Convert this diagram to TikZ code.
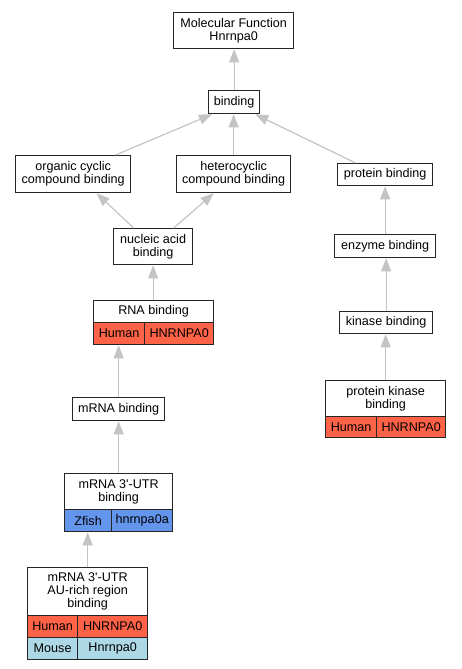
\documentclass[tikz,border=0pt]{standalone}
\usepackage{fontspec}
\newfontfamily\lsans{Liberation Sans}
\usetikzlibrary{arrows.meta}
\definecolor{human}{HTML}{FF6347}
\definecolor{zfish}{HTML}{6495ED}
\definecolor{mouse}{HTML}{ADD8E6}
\definecolor{edgegray}{HTML}{C4C4C4}
\tikzset{
  box/.style={draw=black!85, line width=1.3pt, fill=white, inner sep=0pt, align=center,
    anchor=north west, font=\lsans\fontsize{12.6}{13}\selectfont},
  hcell/.style={box, fill=human},
  zcell/.style={box, fill=zfish},
  mcell/.style={box, fill=mouse},
  isa/.style={draw=edgegray, line width=1.2pt, -{Triangle[length=13pt,width=10pt]}},
}
\begin{document}
\begin{tikzpicture}[x=1pt,y=-1pt]
\useasboundingbox (0,0) rectangle (461,669);
% nodes
\node[box, minimum width=120, minimum height=36] (mf) at (173,12) {Molecular Function\\Hnrnpa0};
\node[box, minimum width=51, minimum height=23] (bind) at (208,90) {binding};
\node[box, minimum width=115, minimum height=37] (org) at (15,155) {organic cyclic\\compound binding};
\node[box, minimum width=114, minimum height=37] (het) at (176,155) {heterocyclic\\compound binding};
\node[box, minimum width=95, minimum height=22] (prot) at (337,163) {protein binding};
\node[box, minimum width=79, minimum height=36] (nuc) at (113,228) {nucleic acid\\binding};
\node[box, minimum width=101, minimum height=23] (enz) at (334,234) {enzyme binding};
\node[box, minimum width=120, minimum height=22] (rna) at (93,300) {RNA binding};
\node[hcell, minimum width=51, minimum height=22] (rnah) at (93,322) {Human};
\node[hcell, minimum width=69, minimum height=22] (rnag) at (144,322) {HNRNPA0};
\node[box, minimum width=93, minimum height=22] (kin) at (339,311) {kinase binding};
\node[box, minimum width=92, minimum height=23] (mrna) at (72,397) {mRNA binding};
\node[box, minimum width=120, minimum height=36] (pk) at (325,380) {protein kinase\\binding};
\node[hcell, minimum width=51, minimum height=21] (pkh) at (325,416) {Human};
\node[hcell, minimum width=69, minimum height=21] (pkg) at (376,416) {HNRNPA0};
\node[box, minimum width=108, minimum height=36] (utr) at (64,473) {mRNA 3\textquotesingle-UTR\\binding};
\node[zcell, minimum width=47, minimum height=22] (utrz) at (64,509) {Zfish};
\node[zcell, minimum width=61, minimum height=22] (utrg) at (111,509) {hnrnpa0a};
\node[box, minimum width=120, minimum height=48] (au) at (27,567) {mRNA 3\textquotesingle-UTR\\AU-rich region\\binding};
\node[hcell, minimum width=50, minimum height=22] (auh) at (27,615) {Human};
\node[hcell, minimum width=70, minimum height=22] (auhg) at (77,615) {HNRNPA0};
\node[mcell, minimum width=50, minimum height=22] (aum) at (27,637) {Mouse};
\node[mcell, minimum width=70, minimum height=22] (aumg) at (77,637) {Hnrnpa0};
% edges
\draw[isa] (bind.north) -- (bind.north |- mf.south);
\draw[isa] ([xshift=42.5]org.north) -- ([xshift=4]bind.south west);
\draw[isa] (het.north) -- (het.north |- bind.south);
\draw[isa] ([xshift=-29.5]prot.north) -- ([xshift=-5]bind.south east);
\draw[isa] ([xshift=-19.5]nuc.north) -- ([xshift=23.5]org.south);
\draw[isa] ([xshift=20.5]nuc.north) -- ([xshift=-20]het.south);
\draw[isa] (rna.north -| nuc.south) -- (nuc.south);
\draw[isa] (enz.north) -- (enz.north |- prot.south);
\draw[isa] (kin.north) -- (kin.north |- enz.south);
\draw[isa] (pk.north) -- (pk.north |- kin.south);
\draw[isa] (mrna.north) -- (mrna.north |- rnah.south);
\draw[isa] (utr.north -| mrna.south) -- (mrna.south);
\draw[isa] (au.north) -- (au.north |- utrz.south);
\end{tikzpicture}
\end{document}
